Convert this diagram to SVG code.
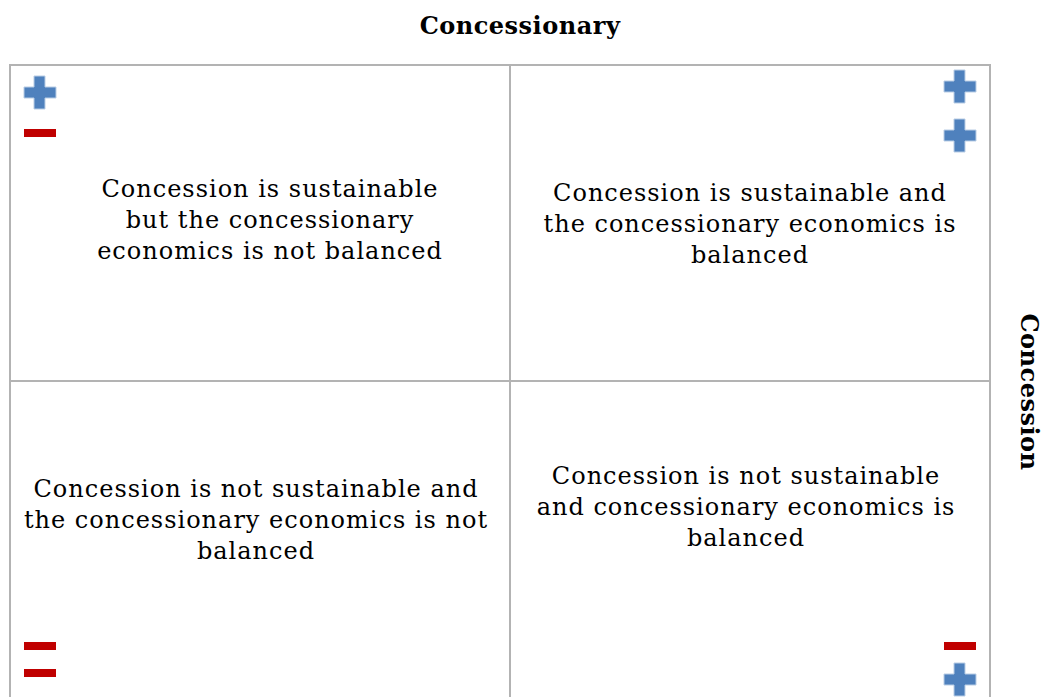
<svg xmlns="http://www.w3.org/2000/svg" width="1043" height="697" viewBox="0 0 1043 697">
  <defs>
    <style>
      .grid { fill: none; stroke: #b3b3b3; stroke-width: 2; }
      .cell { font-family: "DejaVu Serif", "Liberation Serif", serif; font-size: 24px; letter-spacing: 1px; fill: #000; text-anchor: middle; }
      .axis { font-family: "DejaVu Serif", "Liberation Serif", serif; font-size: 24px; letter-spacing: 0.5px; font-weight: bold; fill: #000; text-anchor: middle; }
      .plus { fill: #4f81bd; stroke: #b9cde5; stroke-width: 1; }
      .minus { fill: #c00000; }
    </style>
    <path id="plus" class="plus" d="M10 0 H21 V11 H32 V22 H21 V33 H10 V22 H0 V11 H10 Z"/>
    <rect id="minus" class="minus" width="32" height="8"/>
  </defs>

  <rect width="1043" height="697" fill="#fff"/>

  <!-- axis titles -->
  <text class="axis" x="520" y="34">Concessionary</text>
  <text class="axis" transform="translate(1021 392) rotate(90)">Concession</text>

  <!-- quadrant grid -->
  <g id="grid">
    <path class="grid" d="M10 698 V65 H990 V698"/>
    <path class="grid" d="M510 65 V698 M10 381 H990"/>
  </g>

  <!-- top-left: sustainable, not balanced -->
  <g id="q-top-left">
    <use href="#plus" x="24" y="76"/>
    <use href="#minus" x="24" y="129"/>
    <text class="cell"><tspan x="270" y="197">Concession is sustainable</tspan><tspan x="270" y="228">but the concessionary</tspan><tspan x="270" y="259">economics is not balanced</tspan></text>
  </g>

  <!-- top-right: sustainable, balanced -->
  <g id="q-top-right">
    <use href="#plus" x="944" y="70"/>
    <use href="#plus" x="944" y="119"/>
    <text class="cell"><tspan x="750" y="201">Concession is sustainable and</tspan><tspan x="750" y="232">the concessionary economics is</tspan><tspan x="750" y="263">balanced</tspan></text>
  </g>

  <!-- bottom-left: not sustainable, not balanced -->
  <g id="q-bottom-left">
    <use href="#minus" x="24" y="642"/>
    <use href="#minus" x="24" y="669"/>
    <text class="cell"><tspan x="256" y="497">Concession is not sustainable and</tspan><tspan x="256" y="528">the concessionary economics is not</tspan><tspan x="256" y="559">balanced</tspan></text>
  </g>

  <!-- bottom-right: not sustainable, balanced -->
  <g id="q-bottom-right">
    <use href="#minus" x="944" y="642"/>
    <use href="#plus" x="944" y="663"/>
    <text class="cell"><tspan x="746" y="484">Concession is not sustainable</tspan><tspan x="746" y="515">and concessionary economics is</tspan><tspan x="746" y="546">balanced</tspan></text>
  </g>
</svg>
